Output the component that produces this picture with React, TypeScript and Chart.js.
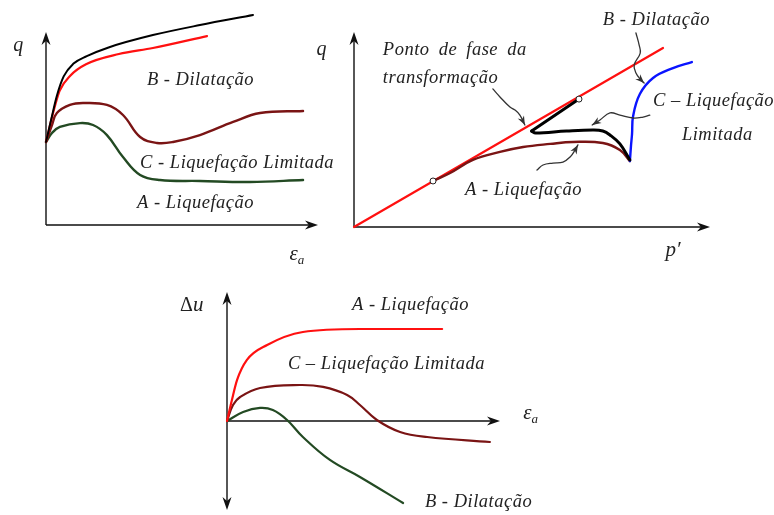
import { useEffect, useRef } from "react";
import { Chart, registerables } from "chart.js";

Chart.register(...registerables);

type Pt = [number, number];

// ---- Panel 1: q versus axial strain ----
const qEaDilation: Pt[] = [[0, 4.3], [0.18, 5.4], [0.4, 6.7], [0.65, 7.7], [1.0, 8.35], [1.5, 8.75], [2.3, 9.2], [3.93, 9.84], [5.66, 10.36], [7.61, 10.88]];
const qEaDilationRed: Pt[] = [[0, 4.3], [0.26, 5.8], [0.5, 6.95], [0.9, 7.75], [1.47, 8.33], [2.68, 8.86], [3.93, 9.17], [5.92, 9.79]];
const qEaLimited: Pt[] = [[0, 4.3], [0.22, 5.18], [0.4, 5.8], [0.88, 6.22], [1.36, 6.32], [2.24, 6.22], [2.83, 5.7], [3.46, 4.56], [4.08, 4.25], [4.67, 4.3], [5.66, 4.66], [6.88, 5.34], [7.87, 5.8], [9.45, 5.91]];
const qEaLiquefaction: Pt[] = [[0, 4.3], [0.22, 4.77], [0.51, 5.08], [1.25, 5.28], [1.73, 5.18], [2.24, 4.66], [2.83, 3.52], [3.46, 2.59], [4.19, 2.33], [5.66, 2.28], [7.5, 2.23], [9.45, 2.33]];

// ---- Panel 2: stress path q versus p' ----
const phaseLine: Pt[] = [[0, 0], [8.68, 9.18]];
const pathLiquefaction: Pt[] = [[2.22, 2.36], [2.7, 2.77], [3.34, 3.44], [4.1, 3.85], [4.75, 4.1], [5.51, 4.26], [6.15, 4.36], [6.99, 4.31], [7.47, 3.95], [7.75, 3.38]];
const pathLimitedUpper: Pt[] = [[6.32, 6.56], [4.99, 4.92]];
const pathLimitedLower: Pt[] = [[4.99, 4.92], [5.1, 4.82], [5.97, 4.92], [6.71, 4.97], [6.99, 4.92], [7.19, 4.72], [7.47, 4.26], [7.75, 3.44]];
const pathDilation: Pt[] = [[7.75, 3.38], [7.78, 4.15], [7.81, 4.77], [7.84, 5.69], [8.03, 6.82], [8.4, 7.64], [8.96, 8.15], [9.49, 8.46]];
const phasePoints: Pt[] = [[2.22, 2.36], [6.32, 6.56]];
const pointerPhase: Pt[] = [[3.9, 7.08], [4.1, 6.67], [4.38, 6.15], [4.52, 6.0], [4.66, 5.74], [4.8, 5.23]];
const pointerDilation: Pt[] = [[7.92, 9.95], [8.01, 9.33], [8.04, 8.92], [7.87, 8.31], [7.92, 7.9], [8.06, 7.54], [8.15, 7.38]];
const pointerLimited: Pt[] = [[8.31, 5.74], [8.12, 5.64], [7.84, 5.59], [7.47, 5.74], [7.19, 5.85], [6.91, 5.49], [6.69, 5.23]];
const pointerLiquefaction: Pt[] = [[5.14, 2.92], [5.31, 3.18], [5.59, 3.28], [5.87, 3.33], [6.07, 3.59], [6.21, 3.95], [6.29, 4.21]];

// ---- Panel 3: excess pore pressure versus axial strain ----
const duLiquefaction: Pt[] = [[0, 0], [0.18, 1.63], [0.37, 3.18], [0.73, 4.73], [1.47, 5.89], [2.78, 6.9], [4.87, 7.13], [7.88, 7.13]];
const duLimited: Pt[] = [[0, 0], [0.22, 1.24], [0.48, 1.86], [1.21, 2.56], [2.67, 2.79], [3.52, 2.64], [4.4, 2.02], [4.87, 1.24], [5.49, 0.08], [6.34, -0.85], [7.33, -1.24], [9.63, -1.63]];
const duDilation: Pt[] = [[0, 0], [0.59, 0.7], [1.21, 1.01], [1.68, 0.85], [2.2, 0.08], [2.78, -1.24], [3.77, -3.02], [4.87, -4.34], [6.45, -6.36]];

const RED = "#ff1010";
const MAROON = "#7a1414";
const GREEN = "#234a23";
const BLUE = "#0a14ff";
const INK = "#111";
const SERIF = '"Liberation Serif", "Times New Roman", serif';

interface Series { pts: Pt[]; color: string; width: number; tension?: number; mono?: boolean; pointer?: boolean; markers?: boolean; }
interface Part { t: string; italic?: boolean; size?: number; dy?: number; }
interface Label { x: number; y: number; parts: Part[]; words?: number; }
interface Panel {
  box: { left: number; top: number; width: number; height: number };
  pad: { left: number; right: number; top: number; bottom: number };
  xRange: Pt;
  yRange: Pt;
  yAxisBothWays?: boolean;
  series: Series[];
  labels: Label[];
}

const txt = (x: number, y: number, t: string, words = 0): Label => ({ x, y, words, parts: [{ t, italic: true }] });
const epsA = (x: number, y: number): Label => ({ x, y, parts: [{ t: "ε", italic: true, size: 21 }, { t: "a", italic: true, size: 13, dy: 6 }] });

const panels: Panel[] = [
  {
    box: { left: 0, top: 0, width: 340, height: 275 },
    pad: { left: 46, right: 22, top: 32, bottom: 50 },
    xRange: [0, 10],
    yRange: [0, 10],
    series: [
      { pts: qEaDilation, color: "#000", width: 2, mono: true },
      { pts: qEaDilationRed, color: RED, width: 2.2, mono: true },
      { pts: qEaLimited, color: MAROON, width: 2.4 },
      { pts: qEaLiquefaction, color: GREEN, width: 2.4 },
    ],
    labels: [
      { x: -1.2, y: 9.3, parts: [{ t: "q", italic: true, size: 20 }] },
      epsA(8.95, -1.55),
      txt(3.71, 7.51, "B - Dilatação"),
      txt(3.46, 3.21, "C - Liquefação Limitada"),
      txt(3.35, 1.14, "A - Liquefação"),
    ],
  },
  {
    box: { left: 300, top: 0, width: 474, height: 275 },
    pad: { left: 54, right: 64, top: 32, bottom: 48 },
    xRange: [0, 10],
    yRange: [0, 10],
    series: [
      { pts: phasePoints, color: "#222", width: 1, markers: true },
      { pts: pointerPhase, color: "#333", width: 1.3, pointer: true },
      { pts: pointerDilation, color: "#333", width: 1.3, pointer: true },
      { pts: pointerLimited, color: "#333", width: 1.3, pointer: true },
      { pts: pointerLiquefaction, color: "#333", width: 1.3, pointer: true },
      { pts: pathLimitedUpper, color: "#000", width: 3, tension: 0 },
      { pts: pathLimitedLower, color: "#000", width: 3 },
      { pts: pathDilation, color: BLUE, width: 2.4 },
      { pts: pathLiquefaction, color: MAROON, width: 2.4 },
      { pts: phaseLine, color: RED, width: 2.2, tension: 0 },
    ],
    labels: [
      { x: -1.05, y: 9.1, parts: [{ t: "q", italic: true, size: 20 }] },
      { x: 8.75, y: -1.18, parts: [{ t: "p′", italic: true, size: 21 }] },
      txt(0.81, 9.08, "Ponto de fase da", 4),
      txt(0.81, 7.64, "transformação"),
      txt(6.99, 10.62, "B - Dilatação"),
      txt(8.4, 6.46, "C – Liquefação"),
      txt(9.21, 4.72, "Limitada"),
      txt(3.12, 1.9, "A - Liquefação"),
    ],
  },
  {
    box: { left: 150, top: 280, width: 420, height: 235 },
    pad: { left: 77, right: 70, top: 12, bottom: 5 },
    xRange: [0, 10],
    yRange: [-6.9, 10],
    yAxisBothWays: true,
    series: [
      { pts: duLiquefaction, color: RED, width: 2.2, mono: true },
      { pts: duLimited, color: MAROON, width: 2.2 },
      { pts: duDilation, color: GREEN, width: 2.2 },
    ],
    labels: [
      { x: -1.72, y: 8.95, parts: [{ t: "Δ", italic: false, size: 20 }, { t: "u", italic: true, size: 21 }] },
      epsA(10.85, 0.55),
      txt(4.58, 8.99, "A - Liquefação"),
      txt(2.23, 4.42, "C – Liquefação Limitada"),
      txt(7.25, -6.28, "B - Dilatação"),
    ],
  },
];

// Filled "stealth" arrow head with its tip at (x, y), pointing along angle a.
function arrowHead(ctx: CanvasRenderingContext2D, x: number, y: number, a: number, len: number, half: number, color: string) {
  ctx.save();
  ctx.translate(x, y);
  ctx.rotate(a);
  ctx.fillStyle = color;
  ctx.beginPath();
  ctx.moveTo(0, 0);
  ctx.lineTo(-len, -half);
  ctx.lineTo(-len * 0.7, 0);
  ctx.lineTo(-len, half);
  ctx.closePath();
  ctx.fill();
  ctx.restore();
}

function decorPlugin(panel: Panel) {
  return {
    id: "decor",
    beforeDatasetsDraw(chart: Chart) {
      const ctx = chart.ctx;
      const sx = chart.scales.x;
      const sy = chart.scales.y;
      const ox = sx.getPixelForValue(0);
      const oy = sy.getPixelForValue(0);
      const xEnd = sx.getPixelForValue(panel.xRange[1]);
      const yTop = sy.getPixelForValue(panel.yRange[1]);
      const yBot = panel.yAxisBothWays ? sy.getPixelForValue(panel.yRange[0]) : oy;
      ctx.save();
      ctx.strokeStyle = INK;
      ctx.lineWidth = 1.4;
      ctx.beginPath();
      ctx.moveTo(ox, oy);
      ctx.lineTo(xEnd - 6, oy);
      ctx.moveTo(ox, yBot - (panel.yAxisBothWays ? 6 : 0));
      ctx.lineTo(ox, yTop + 6);
      ctx.stroke();
      arrowHead(ctx, xEnd, oy, 0, 13, 4.5, INK);
      arrowHead(ctx, ox, yTop, -Math.PI / 2, 13, 4.5, INK);
      if (panel.yAxisBothWays) arrowHead(ctx, ox, yBot, Math.PI / 2, 13, 4.5, INK);
      ctx.restore();
    },
    afterDatasetsDraw(chart: Chart) {
      const ctx = chart.ctx;
      const sx = chart.scales.x;
      const sy = chart.scales.y;
      ctx.save();
      panel.series.forEach((s) => {
        if (!s.pointer) return;
        const n = s.pts.length;
        const [x1, y1] = s.pts[n - 2];
        const [x2, y2] = s.pts[n - 1];
        const px1 = sx.getPixelForValue(x1), py1 = sy.getPixelForValue(y1);
        const px2 = sx.getPixelForValue(x2), py2 = sy.getPixelForValue(y2);
        arrowHead(ctx, px2, py2, Math.atan2(py2 - py1, px2 - px1), 9, 3.5, s.color);
      });
      ctx.fillStyle = "#222";
      ctx.textBaseline = "middle";
      ctx.textAlign = "left";
      panel.labels.forEach((l) => {
        let x = sx.getPixelForValue(l.x);
        const y = sy.getPixelForValue(l.y);
        (ctx as any).wordSpacing = `${l.words ?? 0}px`;
        l.parts.forEach((p) => {
          const size = p.size ?? 18.5;
          ctx.font = `${p.italic ? "italic " : ""}${size}px ${SERIF}`;
          (ctx as any).letterSpacing = p.size ? "0px" : "0.5px";
          ctx.fillText(p.t, x, y + (p.dy ?? 0));
          x += ctx.measureText(p.t).width;
        });
      });
      ctx.restore();
    },
  };
}

function PanelChart({ panel }: { panel: Panel }) {
  const ref = useRef<HTMLCanvasElement>(null);
  useEffect(() => {
    if (!ref.current) return;
    const chart = new Chart(ref.current, {
      type: "scatter",
      data: {
        datasets: panel.series.map((s) => ({
          data: s.pts.map(([x, y]) => ({ x, y })),
          showLine: !s.markers,
          borderColor: s.color,
          borderWidth: s.width,
          tension: s.tension ?? 0.4,
          cubicInterpolationMode: s.mono ? "monotone" : "default",
          pointRadius: s.markers ? 3 : 0,
          pointBackgroundColor: "#fff",
          pointBorderColor: "#222",
          pointBorderWidth: 1,
          borderCapStyle: "round",
          borderJoinStyle: "round",
          clip: false,
        })) as any,
      },
      options: {
        responsive: false,
        animation: false,
        devicePixelRatio: 1,
        events: [],
        layout: { padding: panel.pad },
        plugins: { legend: { display: false }, tooltip: { enabled: false } },
        scales: {
          x: { type: "linear", display: false, min: panel.xRange[0], max: panel.xRange[1] },
          y: { type: "linear", display: false, min: panel.yRange[0], max: panel.yRange[1] },
        },
      },
      plugins: [decorPlugin(panel)],
    });
    return () => chart.destroy();
  }, [panel]);
  return (
    <canvas
      ref={ref}
      width={panel.box.width}
      height={panel.box.height}
      style={{ position: "absolute", left: panel.box.left, top: panel.box.top, width: panel.box.width, height: panel.box.height }}
    />
  );
}

export default function App() {
  return (
    <div style={{ position: "absolute", left: 0, top: 0, width: 774, height: 515, background: "#fff", overflow: "hidden" }}>
      {panels.map((p, i) => (
        <PanelChart key={i} panel={p} />
      ))}
    </div>
  );
}
